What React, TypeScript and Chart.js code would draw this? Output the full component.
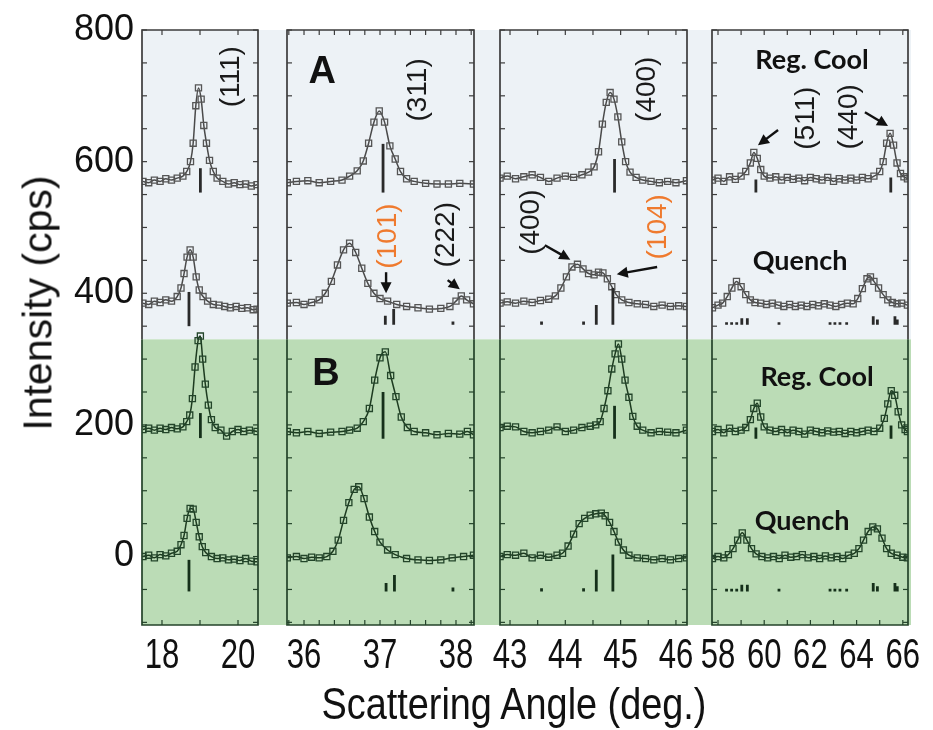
import React, { useEffect, useRef } from 'react';
import { Chart, registerables } from 'chart.js';

Chart.register(...registerables);

type Pt = [number, number];
type Stick = [number, number, number];

// ---------------- shared axis data ----------------
const Y_MIN = -104;
const Y_MAX = 800;
const Y_SPLIT = 330; // border between band (A) and band (B)
const yTickValues = [-100, -50, 0, 50, 100, 150, 200, 250, 300, 350, 400, 450, 500, 550, 600, 650, 700, 750, 800];
const yLabelValues = [0, 200, 400, 600, 800];
const xTitle = 'Scattering Angle (deg.)';
const yTitle = 'Intensity (cps)';

// ---------------- panel 1 : (111) ----------------
const p1Ticks = [18, 19, 20];
const p1Labels = [18, 20];
const p1RegA: Pt[] = [[17.5,570],[17.65,568],[17.8,572],[17.95,570],[18.1,574],[18.25,572],[18.4,575],[18.55,578],[18.65,585],[18.75,600],[18.82,628],[18.89,685],[18.96,712],[19.03,695],[19.1,655],[19.17,628],[19.25,602],[19.35,585],[19.45,575],[19.6,570],[19.75,566],[19.9,568],[20.05,565],[20.2,566],[20.35,563],[20.5,565]];
const p1QuenchA: Pt[] = [[17.5,385],[17.65,383],[17.8,388],[17.95,386],[18.1,390],[18.25,388],[18.4,395],[18.5,408],[18.58,430],[18.66,455],[18.74,466],[18.82,455],[18.9,425],[18.98,405],[19.08,395],[19.2,388],[19.35,383],[19.5,382],[19.65,380],[19.8,378],[19.95,380],[20.1,377],[20.25,378],[20.4,375],[20.5,376]];
const p1RegB: Pt[] = [[17.5,193],[17.65,195],[17.8,192],[17.95,195],[18.1,193],[18.25,196],[18.4,194],[18.55,197],[18.65,205],[18.73,215],[18.8,240],[18.87,288],[18.95,328],[19.01,335],[19.07,300],[19.14,262],[19.22,230],[19.3,208],[19.4,196],[19.55,192],[19.7,183],[19.85,190],[20.0,193],[20.15,190],[20.3,192],[20.5,190]];
const p1QuenchB: Pt[] = [[17.5,0],[17.65,2],[17.8,-2],[17.95,3],[18.1,1],[18.25,5],[18.4,8],[18.5,18],[18.58,32],[18.66,58],[18.74,73],[18.82,72],[18.9,52],[18.98,30],[19.06,15],[19.15,6],[19.3,0],[19.45,-3],[19.6,-2],[19.75,-5],[19.9,-4],[20.05,-6],[20.2,-3],[20.35,-7],[20.5,-8]];
const p1StickRegA: Stick[] = [[19.01, 553, 590]];
const p1StickQuenchA: Stick[] = [[18.71, 350, 402]];
const p1StickRegB: Stick[] = [[19.01, 180, 218]];
const p1StickQuenchB: Stick[] = [[18.71, -53, -5]];

// ---------------- panel 2 : (311) ----------------
const p2Ticks = [35.8, 36, 36.2, 36.4, 36.6, 36.8, 37, 37.2, 37.4, 37.6, 37.8, 38, 38.2];
const p2Labels = [36, 37, 38];
const p2RegA: Pt[] = [[35.78,568],[35.9,570],[36.05,571],[36.2,568],[36.35,570],[36.5,572],[36.6,578],[36.7,586],[36.78,601],[36.85,628],[36.92,660],[36.99,677],[37.06,660],[37.13,624],[37.2,604],[37.27,585],[37.35,574],[37.45,570],[37.6,567],[37.75,566],[37.9,566],[38.05,567],[38.23,566]];
const p2QuenchA: Pt[] = [[35.78,385],[35.9,386],[36.0,383],[36.1,386],[36.2,390],[36.28,400],[36.36,418],[36.44,443],[36.52,466],[36.6,476],[36.68,462],[36.76,438],[36.84,415],[36.92,400],[37.0,392],[37.1,388],[37.22,383],[37.35,380],[37.5,378],[37.65,376],[37.8,377],[37.92,380],[38.0,388],[38.07,396],[38.14,390],[38.23,384]];
const p2RegB: Pt[] = [[35.78,190],[35.9,188],[36.05,190],[36.2,187],[36.35,189],[36.5,190],[36.6,192],[36.7,195],[36.78,205],[36.86,225],[36.93,268],[37.0,302],[37.07,311],[37.14,275],[37.21,243],[37.28,212],[37.36,196],[37.45,190],[37.6,188],[37.75,185],[37.9,187],[38.05,186],[38.15,190],[38.23,185]];
const p2QuenchB: Pt[] = [[35.78,-2],[35.9,0],[36.0,-3],[36.1,-1],[36.2,-2],[36.3,0],[36.38,8],[36.45,25],[36.52,55],[36.59,82],[36.66,102],[36.72,106],[36.79,88],[36.86,60],[36.93,38],[37.0,22],[37.1,10],[37.2,3],[37.35,-3],[37.5,-5],[37.65,-6],[37.8,-5],[37.95,-2],[38.1,0],[38.23,2]];
const p2StickRegA: Stick[] = [[37.04, 553, 627]];
const p2StickQuenchA: Stick[] = [[37.07, 352, 366], [37.18, 352, 376], [37.96, 352, 357]];
const p2StickRegB: Stick[] = [[37.04, 179, 250]];
const p2StickQuenchB: Stick[] = [[37.08, -53, -40], [37.19, -53, -28], [37.96, -53, -47]];

// ---------------- panel 3 : (400) ----------------
const p3Ticks = [43, 43.5, 44, 44.5, 45, 45.5, 46];
const p3Labels = [43, 44, 45, 46];
const p3RegA: Pt[] = [[42.82,575],[42.95,578],[43.1,574],[43.25,577],[43.4,580],[43.55,576],[43.7,570],[43.85,575],[44.0,578],[44.15,576],[44.3,580],[44.42,584],[44.52,592],[44.6,615],[44.67,657],[44.74,690],[44.81,705],[44.88,695],[44.95,668],[45.02,630],[45.09,600],[45.17,584],[45.28,576],[45.4,572],[45.55,570],[45.7,568],[45.85,570],[46.0,568],[46.19,571]];
const p3QuenchA: Pt[] = [[42.82,385],[42.95,387],[43.1,385],[43.25,388],[43.4,386],[43.55,389],[43.7,391],[43.82,396],[43.92,408],[44.02,425],[44.12,440],[44.22,444],[44.32,437],[44.42,430],[44.52,428],[44.6,432],[44.68,431],[44.76,422],[44.84,410],[44.92,398],[45.02,390],[45.15,386],[45.3,384],[45.45,383],[45.6,380],[45.75,382],[45.9,380],[46.05,381],[46.19,380]];
const p3RegB: Pt[] = [[42.82,196],[42.95,198],[43.1,197],[43.25,190],[43.4,188],[43.55,190],[43.7,192],[43.85,197],[44.0,190],[44.15,192],[44.3,196],[44.45,198],[44.55,200],[44.63,205],[44.7,225],[44.77,252],[44.84,285],[44.9,308],[44.96,323],[45.02,300],[45.08,268],[45.15,242],[45.22,213],[45.3,198],[45.4,192],[45.55,188],[45.7,190],[45.85,189],[46.0,188],[46.19,192]];
const p3QuenchB: Pt[] = [[42.82,0],[42.95,3],[43.1,2],[43.25,5],[43.4,-2],[43.55,2],[43.7,-1],[43.85,2],[43.95,5],[44.05,16],[44.15,34],[44.25,50],[44.35,58],[44.45,63],[44.55,65],[44.65,66],[44.72,62],[44.8,52],[44.88,38],[44.96,22],[45.05,10],[45.15,2],[45.3,-2],[45.45,-3],[45.6,-5],[45.75,-3],[45.9,-5],[46.05,-3],[46.19,-2]];
const p3StickRegA: Stick[] = [[44.89, 553, 604]];
const p3StickQuenchA: Stick[] = [[43.57, 352, 357], [44.33, 352, 357], [44.56, 352, 382], [44.86, 352, 408]];
const p3StickRegB: Stick[] = [[44.89, 179, 229]];
const p3StickQuenchB: Stick[] = [[43.57, -53, -48], [44.33, -53, -48], [44.56, -53, -20], [44.86, -53, 3]];

// ---------------- panel 4 : (511) and (440) ----------------
const p4Ticks = [58, 59, 60, 61, 62, 63, 64, 65, 66];
const p4Labels = [58, 60, 62, 64, 66];
const p4RegA: Pt[] = [[57.76,572],[58.0,575],[58.25,570],[58.5,577],[58.75,573],[59.0,578],[59.2,585],[59.4,598],[59.55,614],[59.7,605],[59.85,588],[60.0,578],[60.25,575],[60.5,577],[60.75,572],[61.0,576],[61.25,573],[61.5,575],[61.75,571],[62.0,576],[62.25,574],[62.5,572],[62.75,576],[63.0,570],[63.25,574],[63.5,572],[63.75,575],[64.0,572],[64.25,576],[64.5,574],[64.75,578],[65.0,585],[65.15,600],[65.3,628],[65.45,643],[65.6,625],[65.75,598],[65.9,582],[66.05,577],[66.2,574]];
const p4QuenchA: Pt[] = [[57.76,378],[58.0,382],[58.2,385],[58.4,395],[58.6,408],[58.8,418],[59.0,410],[59.2,398],[59.4,390],[59.6,386],[59.85,385],[60.1,383],[60.35,385],[60.6,382],[60.85,380],[61.1,383],[61.35,380],[61.6,382],[61.85,380],[62.1,383],[62.35,381],[62.6,384],[62.85,382],[63.1,380],[63.35,383],[63.6,385],[63.85,384],[64.05,392],[64.25,407],[64.45,422],[64.6,425],[64.75,418],[64.95,408],[65.15,398],[65.35,390],[65.55,386],[65.75,384],[65.95,385],[66.2,382]];
const p4RegB: Pt[] = [[57.76,190],[58.0,193],[58.25,188],[58.5,195],[58.75,190],[59.0,192],[59.2,196],[59.4,208],[59.55,225],[59.7,233],[59.85,212],[60.0,197],[60.25,192],[60.5,190],[60.75,193],[61.0,188],[61.25,192],[61.5,190],[61.75,186],[62.0,192],[62.25,190],[62.5,188],[62.75,191],[63.0,189],[63.25,190],[63.5,187],[63.75,190],[64.0,188],[64.25,190],[64.5,192],[64.75,190],[65.0,195],[65.2,210],[65.35,232],[65.5,252],[65.65,245],[65.8,220],[65.95,200],[66.1,193],[66.2,190]];
const p4QuenchB: Pt[] = [[57.76,-3],[58.0,0],[58.25,-2],[58.45,3],[58.65,12],[58.85,25],[59.05,36],[59.25,25],[59.45,12],[59.65,4],[59.9,0],[60.15,-2],[60.4,0],[60.65,-3],[60.9,2],[61.15,-1],[61.4,0],[61.65,3],[61.9,-2],[62.15,0],[62.4,-3],[62.65,1],[62.9,-2],[63.15,0],[63.4,-3],[63.65,2],[63.9,5],[64.1,12],[64.3,25],[64.5,38],[64.7,45],[64.9,42],[65.1,28],[65.3,12],[65.5,5],[65.75,2],[66.0,-1],[66.2,-2]];
const p4StickRegA: Stick[] = [[59.64, 553, 573], [65.48, 553, 576]];
const p4StickQuenchA: Stick[] = [[58.37,352,356],[58.59,352,356],[58.81,352,356],[59.03,352,362],[59.27,352,362],[60.64,352,356],[62.85,352,356],[63.06,352,356],[63.28,352,356],[63.57,352,356],[64.72,352,365],[64.9,352,360],[65.66,352,365],[65.76,352,360]];
const p4StickRegB: Stick[] = [[59.64, 179, 196], [65.49, 179, 199]];
const p4StickQuenchB: Stick[] = [[58.37,-53,-49],[58.59,-53,-49],[58.81,-53,-49],[59.03,-53,-43],[59.27,-53,-43],[60.64,-53,-49],[62.85,-53,-49],[63.06,-53,-49],[63.28,-53,-49],[63.57,-53,-49],[64.72,-53,-40],[64.9,-53,-45],[65.66,-53,-40],[65.76,-53,-45]];

// ---------------- annotations (data coordinates) ----------------
type Note = { text: string; x: number; y: number; kind: 'hkl' | 'hklOrange' | 'panel' | 'cond' };
type Arrow = [number, number, number, number];
const p1Notes: Note[] = [{ text: '(111)', x: 19.82, y: 729, kind: 'hkl' }];
const p2Notes: Note[] = [
  { text: 'A', x: 36.24, y: 736, kind: 'panel' },
  { text: 'B', x: 36.29, y: 276, kind: 'panel' },
  { text: '(311)', x: 37.51, y: 709, kind: 'hkl' },
  { text: '(101)', x: 37.11, y: 487, kind: 'hklOrange' },
  { text: '(222)', x: 37.87, y: 489, kind: 'hkl' },
];
const p2Arrows: Arrow[] = [[37.08, 432, 37.08, 400], [37.89, 420, 38.05, 406]];
const p3Notes: Note[] = [
  { text: '(400)', x: 45.48, y: 710, kind: 'hkl' },
  { text: '(400)', x: 43.38, y: 508, kind: 'hkl' },
  { text: '(104)', x: 45.68, y: 501, kind: 'hklOrange' },
];
const p3Arrows: Arrow[] = [[43.63, 473, 44.09, 451], [45.66, 440, 44.93, 429]];
const p4Notes: Note[] = [
  { text: 'Reg. Cool', x: 62.07, y: 754, kind: 'cond' },
  { text: '(511)', x: 61.81, y: 666, kind: 'hkl' },
  { text: '(440)', x: 63.67, y: 668, kind: 'hkl' },
  { text: 'Quench', x: 61.55, y: 448, kind: 'cond' },
  { text: 'Reg. Cool', x: 62.29, y: 273, kind: 'cond' },
  { text: 'Quench', x: 61.64, y: 53, kind: 'cond' },
];
const p4Arrows: Arrow[] = [[60.6, 648, 59.73, 625], [64.36, 675, 65.36, 654]];

// ---------------- styling ----------------
const COLORS = {
  bgTop: '#edf2f6',
  bgBottom: '#bbdcb6',
  frameTop: '#3c3c3c',
  frameBottom: '#24432a',
  lineTop: '#4a4a4a',
  markTop: '#555555',
  lineBottom: '#1d3b20',
  markBottom: '#23452a',
  stickTop: '#2a2a2a',
  stickBottom: '#15301a',
  text: '#111111',
  orange: '#ef7a2e',
};
const SANS = '"Liberation Sans", Arial, Helvetica, sans-serif';
const NOTE_STYLE: Record<Note['kind'], { font: string; color: string; rot: boolean }> = {
  hkl: { font: `28px ${SANS}`, color: '#1a1a1a', rot: true },
  hklOrange: { font: `28px ${SANS}`, color: COLORS.orange, rot: true },
  panel: { font: `bold 38px ${SANS}`, color: '#111', rot: false },
  cond: { font: 'bold 27px Lato, "Open Sans", sans-serif', color: '#111', rot: false },
};
const X_LABEL_FONT = `42px ${SANS}`;
const X_LABEL_SQUEEZE = 0.74; // condensed look of the original tick numerals
const X_LABEL_Y = 656;

type PanelCfg = {
  canvasLeft: number; canvasW: number; padL: number; padR: number; showY: boolean;
  bgL: number; bgR: number; xMin: number; xMax: number; ticks: number[]; labels: number[];
  traces: { pts: Pt[]; low: boolean }[];
  sticks: { list: Stick[]; low: boolean }[];
  notes: Note[]; arrows: Arrow[];
};

const panels: PanelCfg[] = [
  { canvasLeft: 0, canvasW: 288, padL: 0, padR: 30, showY: true, bgL: 0, bgR: 14, xMin: 17.474, xMax: 20.526,
    ticks: p1Ticks, labels: p1Labels,
    traces: [{ pts: p1RegA, low: false }, { pts: p1QuenchA, low: false }, { pts: p1RegB, low: true }, { pts: p1QuenchB, low: true }],
    sticks: [{ list: p1StickRegA, low: false }, { list: p1StickQuenchA, low: false }, { list: p1StickRegB, low: true }, { list: p1StickQuenchB, low: true }],
    notes: p1Notes, arrows: [] },
  { canvasLeft: 257, canvasW: 247, padL: 30, padR: 30, showY: false, bgL: 15, bgR: 13, xMin: 35.776, xMax: 38.237,
    ticks: p2Ticks, labels: p2Labels,
    traces: [{ pts: p2RegA, low: false }, { pts: p2QuenchA, low: false }, { pts: p2RegB, low: true }, { pts: p2QuenchB, low: true }],
    sticks: [{ list: p2StickRegA, low: false }, { list: p2StickQuenchA, low: false }, { list: p2StickRegB, low: true }, { list: p2StickQuenchB, low: true }],
    notes: p2Notes, arrows: p2Arrows },
  { canvasLeft: 470, canvasW: 247, padL: 30, padR: 30, showY: false, bgL: 13, bgR: 12, xMin: 42.819, xMax: 46.2,
    ticks: p3Ticks, labels: p3Labels,
    traces: [{ pts: p3RegA, low: false }, { pts: p3QuenchA, low: false }, { pts: p3RegB, low: true }, { pts: p3QuenchB, low: true }],
    sticks: [{ list: p3StickRegA, low: false }, { list: p3StickQuenchA, low: false }, { list: p3StickRegB, low: true }, { list: p3StickQuenchB, low: true }],
    notes: p3Notes, arrows: p3Arrows },
  { canvasLeft: 682, canvasW: 256, padL: 30, padR: 30, showY: false, bgL: 13, bgR: 3, xMin: 57.74, xMax: 66.225,
    ticks: p4Ticks, labels: p4Labels,
    traces: [{ pts: p4RegA, low: false }, { pts: p4QuenchA, low: false }, { pts: p4RegB, low: true }, { pts: p4QuenchB, low: true }],
    sticks: [{ list: p4StickRegA, low: false }, { list: p4StickQuenchA, low: false }, { list: p4StickRegB, low: true }, { list: p4StickQuenchB, low: true }],
    notes: p4Notes, arrows: p4Arrows },
];

function drawArrow(ctx: CanvasRenderingContext2D, x1: number, y1: number, x2: number, y2: number) {
  const ang = Math.atan2(y2 - y1, x2 - x1);
  const h = 11, w = 5.5;
  const c = Math.cos(ang), s = Math.sin(ang);
  ctx.beginPath();
  ctx.moveTo(x1, y1);
  ctx.lineTo(x2 - c * h * 0.8, y2 - s * h * 0.8);
  ctx.stroke();
  ctx.beginPath();
  ctx.moveTo(x2, y2);
  ctx.lineTo(x2 - h * c + w * s, y2 - h * s - w * c);
  ctx.lineTo(x2 - h * c - w * s, y2 - h * s + w * c);
  ctx.closePath();
  ctx.fill();
}

function makePlugin(cfg: PanelCfg) {
  return {
    id: 'panelDecor',
    beforeDraw(chart: any) {
      const { ctx, chartArea: a, scales } = chart;
      const ys = scales.y.getPixelForValue(Y_SPLIT);
      const l = a.left - cfg.bgL, r = a.right + cfg.bgR;
      ctx.save();
      ctx.fillStyle = COLORS.bgTop;
      ctx.fillRect(l, a.top, r - l, ys - a.top);
      ctx.fillStyle = COLORS.bgBottom;
      ctx.fillRect(l, ys, r - l, a.bottom - ys);
      ctx.restore();
    },
    afterDatasetsDraw(chart: any) {
      const { ctx, chartArea: a, scales } = chart;
      const xs = scales.x, ysc = scales.y;
      const ys = ysc.getPixelForValue(Y_SPLIT);
      ctx.save();
      ctx.lineWidth = 1.7;
      ctx.strokeStyle = COLORS.frameTop;
      ctx.beginPath();
      ctx.moveTo(a.left, ys); ctx.lineTo(a.left, a.top); ctx.lineTo(a.right, a.top); ctx.lineTo(a.right, ys);
      ctx.stroke();
      ctx.strokeStyle = COLORS.frameBottom;
      ctx.beginPath();
      ctx.moveTo(a.left, ys); ctx.lineTo(a.left, a.bottom); ctx.lineTo(a.right, a.bottom); ctx.lineTo(a.right, ys);
      ctx.stroke();
      // inward ticks on all four sides
      const tl = 5;
      ctx.lineWidth = 1.2;
      for (const v of cfg.ticks) {
        const px = xs.getPixelForValue(v);
        ctx.strokeStyle = COLORS.frameTop;
        ctx.beginPath(); ctx.moveTo(px, a.top); ctx.lineTo(px, a.top + tl); ctx.stroke();
        ctx.strokeStyle = COLORS.frameBottom;
        ctx.beginPath(); ctx.moveTo(px, a.bottom); ctx.lineTo(px, a.bottom - tl); ctx.stroke();
      }
      for (const v of yTickValues) {
        const py = ysc.getPixelForValue(v);
        ctx.strokeStyle = v > Y_SPLIT ? COLORS.frameTop : COLORS.frameBottom;
        ctx.beginPath(); ctx.moveTo(a.left, py); ctx.lineTo(a.left + tl, py); ctx.stroke();
        ctx.beginPath(); ctx.moveTo(a.right, py); ctx.lineTo(a.right - tl, py); ctx.stroke();
      }
      // x tick labels (condensed numerals)
      for (const v of cfg.labels) {
        ctx.save();
        ctx.translate(xs.getPixelForValue(v), X_LABEL_Y);
        ctx.scale(X_LABEL_SQUEEZE, 1);
        ctx.font = X_LABEL_FONT;
        ctx.fillStyle = COLORS.text;
        ctx.textAlign = 'center';
        ctx.textBaseline = 'middle';
        ctx.fillText(String(v), 0, 0);
        ctx.restore();
      }
      // notes
      for (const n of cfg.notes) {
        const st = NOTE_STYLE[n.kind];
        ctx.save();
        ctx.translate(xs.getPixelForValue(n.x), ysc.getPixelForValue(n.y));
        if (st.rot) ctx.rotate(-Math.PI / 2);
        ctx.font = st.font;
        ctx.fillStyle = st.color;
        ctx.textAlign = 'center';
        ctx.textBaseline = 'middle';
        ctx.fillText(n.text, 0, 0);
        ctx.restore();
      }
      ctx.strokeStyle = '#111';
      ctx.fillStyle = '#111';
      ctx.lineWidth = 2.4;
      for (const [x1, y1, x2, y2] of cfg.arrows) {
        drawArrow(ctx, xs.getPixelForValue(x1), ysc.getPixelForValue(y1), xs.getPixelForValue(x2), ysc.getPixelForValue(y2));
      }
      ctx.restore();
    },
  };
}

const labelFor = (v: number, labels: number[]) => {
  const hit = labels.find((l) => Math.abs(l - v) < 1e-6);
  return hit === undefined ? '' : String(hit);
};

function buildConfig(cfg: PanelCfg): any {
  const datasets: any[] = [];
  for (const s of cfg.sticks) {
    datasets.push({
      type: 'line',
      data: s.list.flatMap(([x, lo, hi]) => [{ x, y: lo }, { x, y: hi }, { x, y: null }]),
      borderColor: s.low ? COLORS.stickBottom : COLORS.stickTop,
      borderWidth: 2.8,
      borderCapStyle: 'butt',
      pointRadius: 0,
      spanGaps: false,
      fill: false,
    });
  }
  for (const t of cfg.traces) {
    datasets.push({
      type: 'line',
      data: t.pts.map(([x, y]) => ({ x, y })),
      borderColor: t.low ? COLORS.lineBottom : COLORS.lineTop,
      borderWidth: 1.5,
      cubicInterpolationMode: 'monotone',
      pointStyle: 'rect',
      pointRadius: 4.3,
      pointBorderWidth: 1.3,
      pointBorderColor: t.low ? COLORS.markBottom : COLORS.markTop,
      pointBackgroundColor: 'rgba(0,0,0,0)',
      fill: false,
    });
  }
  const yScale: any = cfg.showY
    ? {
        type: 'linear', min: Y_MIN, max: Y_MAX,
        grid: { display: false, drawTicks: false }, border: { display: false },
        afterBuildTicks: (s: any) => { s.ticks = yTickValues.map((value) => ({ value })); },
        afterFit: (s: any) => { s.width = 142; },
        ticks: {
          autoSkip: false, padding: 8, color: COLORS.text,
          font: { family: SANS, size: 36 },
          callback: (v: number) => labelFor(v, yLabelValues),
        },
      }
    : { type: 'linear', display: false, min: Y_MIN, max: Y_MAX };
  return {
    type: 'line',
    data: { datasets },
    options: {
      responsive: false,
      animation: false,
      events: [],
      layout: { padding: { left: cfg.padL, right: cfg.padR, top: 30, bottom: 0 }, autoPadding: false },
      plugins: { legend: { display: false }, tooltip: { enabled: false } },
      scales: {
        x: {
          type: 'linear', min: cfg.xMin, max: cfg.xMax,
          grid: { display: false, drawTicks: false }, border: { display: false },
          afterBuildTicks: (s: any) => { s.ticks = cfg.ticks.map((value) => ({ value })); },
          afterFit: (s: any) => { s.height = 105; },
          ticks: { display: false, autoSkip: false, maxRotation: 0, minRotation: 0 },
        },
        y: yScale,
      },
    },
    plugins: [makePlugin(cfg)],
  };
}

function PanelChart({ cfg }: { cfg: PanelCfg }) {
  const ref = useRef<HTMLCanvasElement>(null);
  useEffect(() => {
    const chart = new Chart(ref.current as HTMLCanvasElement, buildConfig(cfg));
    return () => chart.destroy();
  }, [cfg]);
  return (
    <canvas
      ref={ref}
      width={cfg.canvasW}
      height={730}
      style={{ position: 'absolute', left: cfg.canvasLeft, top: 0, width: cfg.canvasW, height: 730 }}
    />
  );
}

export default function App() {
  return (
    <div style={{ position: 'absolute', left: 0, top: 0, width: 933, height: 730, overflow: 'hidden', background: '#ffffff' }}>
      {panels.map((p, i) => (
        <PanelChart key={i} cfg={p} />
      ))}
      <div
        style={{
          position: 'absolute', left: 38, top: 303, transform: 'translate(-50%, -50%) rotate(-90deg)',
          font: `41px ${SANS}`, color: COLORS.text, whiteSpace: 'nowrap',
        }}
      >
        {yTitle}
      </div>
      <div
        style={{
          position: 'absolute', left: 514, top: 704, transform: 'translate(-50%, -50%) scaleX(0.86)',
          font: `44px ${SANS}`, color: COLORS.text, whiteSpace: 'nowrap',
        }}
      >
        {xTitle}
      </div>
    </div>
  );
}
